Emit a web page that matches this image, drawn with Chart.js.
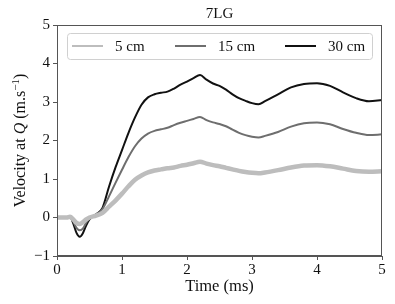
<!DOCTYPE html>
<html>
<head>
<meta charset="utf-8">
<script src="https://cdn.jsdelivr.net/npm/chart.js@4"></script>
<style>
  html, body { margin: 0; padding: 0; background: #fff; }
  #wrap { width: 395px; height: 304px; }
</style>
</head>
<body>
<div id="wrap"><canvas id="velocity"></canvas></div>
<script>
const times = [0, 0.15, 0.2, 0.25, 0.3, 0.35, 0.4, 0.45, 0.5, 0.6, 0.7, 0.8, 0.9, 1.0, 1.1, 1.2, 1.3, 1.4, 1.5, 1.6, 1.7, 1.8, 1.9, 2.0, 2.1, 2.2, 2.3, 2.4, 2.5, 2.6, 2.7, 2.8, 2.9, 3.0, 3.1, 3.2, 3.4, 3.6, 3.8, 4.0, 4.2, 4.4, 4.6, 4.8, 5.0];
const v5cm = [0, 0, 0.02, -0.05, -0.14, -0.17, -0.12, -0.05, 0.0, 0.05, 0.12, 0.28, 0.44, 0.62, 0.81, 0.98, 1.09, 1.17, 1.22, 1.25, 1.28, 1.3, 1.34, 1.37, 1.41, 1.45, 1.4, 1.36, 1.33, 1.29, 1.25, 1.21, 1.18, 1.16, 1.15, 1.17, 1.23, 1.3, 1.35, 1.36, 1.33, 1.27, 1.21, 1.19, 1.2];
const v15cm = [0, 0, 0.02, -0.1, -0.27, -0.33, -0.28, -0.13, -0.02, 0.08, 0.22, 0.55, 0.9, 1.24, 1.57, 1.85, 2.05, 2.18, 2.25, 2.29, 2.33, 2.4, 2.46, 2.51, 2.56, 2.61, 2.53, 2.47, 2.43, 2.37, 2.28, 2.2, 2.14, 2.1, 2.08, 2.12, 2.22, 2.36, 2.45, 2.47, 2.42, 2.3, 2.2, 2.14, 2.16];
const v30cm = [0, 0, 0.02, -0.15, -0.4, -0.5, -0.4, -0.2, -0.05, 0.08, 0.25, 0.8, 1.3, 1.75, 2.2, 2.6, 2.93, 3.12, 3.2, 3.24, 3.27, 3.35, 3.45, 3.53, 3.62, 3.7, 3.58, 3.48, 3.42, 3.32, 3.2, 3.1, 3.03, 2.97, 2.94, 3.02, 3.2, 3.38, 3.47, 3.49, 3.42, 3.25, 3.1, 3.02, 3.05];
const seriesNames = ['5 cm', '15 cm', '30 cm'];
const seriesColors = ['#bdbdbd', '#6e6e6e', '#111111'];

const serif = '"Liberation Serif", "DejaVu Serif", serif';

function pts(vals) {
  return times.map((t, i) => ({ x: t, y: vals[i] }));
}

// frame, title, y label and legend box like the matplotlib figure
const decor = {
  id: 'decor',
  afterDraw(chart) {
    const ctx = chart.ctx;
    const a = chart.chartArea;
    ctx.save();
    ctx.strokeStyle = '#555';
    ctx.lineWidth = 1;
    ctx.strokeRect(a.left + 0.5, a.top + 0.5, a.right - a.left - 1, a.bottom - a.top - 1);

    ctx.fillStyle = '#111';
    ctx.font = '15px ' + serif;
    ctx.textAlign = 'center';
    ctx.textBaseline = 'alphabetic';
    ctx.fillText('7LG', (a.left + a.right) / 2, 18);
    ctx.font = '16.5px ' + serif;
    ctx.fillText('Time (ms)', (a.left + a.right) / 2, 291);

    // y axis title with italic Q and superscript
    const parts = [
      { t: 'Velocity at ', f: '16px ' + serif, dy: 0 },
      { t: 'Q', f: 'italic 16px ' + serif, dy: 0 },
      { t: ' (m.s', f: '16px ' + serif, dy: 0 },
      { t: '\u22121', f: '11px ' + serif, dy: -6 },
      { t: ')', f: '16px ' + serif, dy: 0 }
    ];
    let total = 0;
    parts.forEach(p => { ctx.font = p.f; p.w = ctx.measureText(p.t).width; total += p.w; });
    ctx.translate(25, (a.top + a.bottom) / 2);
    ctx.rotate(-Math.PI / 2);
    ctx.textAlign = 'left';
    let x = -total / 2;
    parts.forEach(p => { ctx.font = p.f; ctx.fillText(p.t, x, p.dy); x += p.w; });
    ctx.setTransform(1, 0, 0, 1, 0, 0);

    // legend
    const bx = 67, by = 33, bw = 305, bh = 26;
    ctx.fillStyle = 'rgba(255,255,255,0.85)';
    ctx.strokeStyle = '#d0d0d0';
    ctx.beginPath();
    ctx.roundRect(bx + 0.5, by + 0.5, bw, bh, 3);
    ctx.fill();
    ctx.stroke();
    const lineX = [72, 175, 285];
    ctx.font = '15px ' + serif;
    ctx.textBaseline = 'middle';
    seriesNames.forEach((n, i) => {
      ctx.strokeStyle = seriesColors[i];
      ctx.lineWidth = 2;
      ctx.beginPath();
      ctx.moveTo(lineX[i], 46);
      ctx.lineTo(lineX[i] + 31, 46);
      ctx.stroke();
      ctx.fillStyle = '#111';
      ctx.fillText(n, lineX[i] + 43, 47);
    });
    ctx.restore();
  }
};

new Chart(document.getElementById('velocity'), {
  type: 'line',
  data: {
    datasets: [
      { label: seriesNames[0], data: pts(v5cm), borderColor: seriesColors[0], borderWidth: 4.5 },
      { label: seriesNames[1], data: pts(v15cm), borderColor: seriesColors[1], borderWidth: 2 },
      { label: seriesNames[2], data: pts(v30cm), borderColor: seriesColors[2], borderWidth: 2 }
    ]
  },
  options: {
    responsive: true,
    maintainAspectRatio: false,
    animation: false,
    layout: { padding: { top: 25, right: 13, left: 0, bottom: 0 } },
    elements: { point: { radius: 0 }, line: { cubicInterpolationMode: 'monotone' } },
    plugins: { legend: { display: false }, tooltip: { enabled: false } },
    scales: {
      x: {
        type: 'linear',
        min: 0, max: 5,
        afterFit(s) { s.height = 48; },
        border: { color: '#555' },
        grid: { drawOnChartArea: false, tickLength: 4, color: '#555' },
        ticks: { stepSize: 1, color: '#111', padding: 1, font: { family: serif, size: 15 } }
      },
      y: {
        min: -1, max: 5,
        afterFit(s) { s.width = 57; },
        border: { color: '#555' },
        grid: { drawOnChartArea: false, tickLength: 4, color: '#555' },
        ticks: { stepSize: 1, color: '#111', padding: 3, font: { family: serif, size: 15 },
          callback: v => v < 0 ? '\u2212' + Math.abs(v) : String(v) }
      }
    }
  },
  plugins: [decor]
});
</script>
</body>
</html>
